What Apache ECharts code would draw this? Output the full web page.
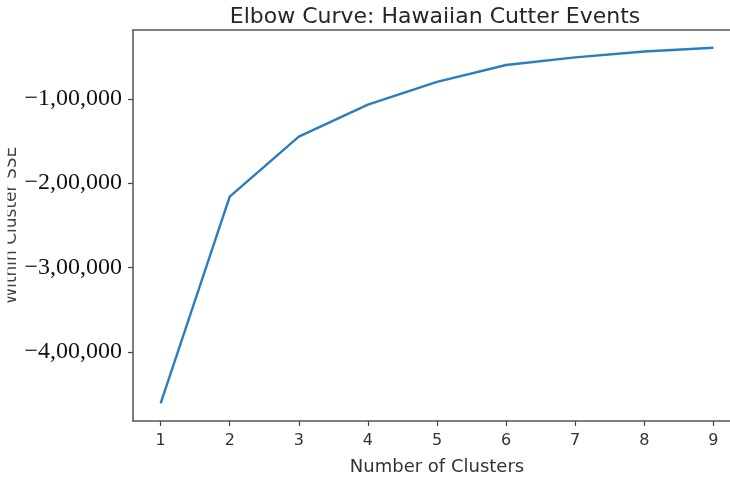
<!DOCTYPE html>
<html>
<head>
<meta charset="utf-8">
<script src="https://cdn.jsdelivr.net/npm/echarts@6/dist/echarts.min.js"></script>
<style>html,body{margin:0;padding:0;background:#fff;}#c{width:730px;height:486px;}</style>
</head>
<body>
<div id="c"></div>
<script>
const clusters = [1, 2, 3, 4, 5, 6, 7, 8, 9];
const sse = [-461000, -216000, -145000, -107000, -80000, -60000, -51000, -44000, -39600];
const xTicks = [1, 2, 3, 4, 5, 6, 7, 8, 9];
const yTicks = [-400000, -300000, -200000, -100000];

function indian(v) {
  const neg = v < 0;
  const s = String(Math.abs(Math.round(v)));
  let out;
  if (s.length <= 3) out = s;
  else {
    const last3 = s.slice(-3);
    const rest = s.slice(0, -3).replace(/\B(?=(\d{2})+(?!\d))/g, ',');
    out = rest + ',' + last3;
  }
  return (neg ? '\u2212' : '') + out;
}

const spine = {color: '#555', width: 1.5};
const chart = echarts.init(document.getElementById('c'), null, {renderer: 'canvas'});
chart.setOption({
  animation: false,
  backgroundColor: '#fff',
  title: {
    text: 'Elbow Curve: Hawaiian Cutter Events',
    left: 430, top: 1, textAlign: 'center',
    textStyle: {fontFamily: 'DejaVu Sans', fontSize: 22, fontWeight: 'normal', color: '#262626'}
  },
  grid: {left: 133, top: 30, right: -11, bottom: 65, outerBoundsMode: 'none', containLabel: false, show: false},
  xAxis: [{
    type: 'value', min: 0.6, max: 9.4, position: 'bottom',
    name: 'Number of Clusters', nameLocation: 'middle', nameGap: 37, nameMoveOverlap: false,
    nameTextStyle: {fontFamily: 'DejaVu Sans', fontSize: 18, color: '#333'},
    axisLine: {show: true, onZero: false, lineStyle: spine},
    axisTick: {show: true, customValues: xTicks, length: 5, lineStyle: {color: '#444', width: 1.2}},
    axisLabel: {customValues: xTicks, margin: 12, fontFamily: 'DejaVu Sans', fontSize: 16, color: '#333'},
    splitLine: {show: false}
  }, {
    type: 'value', min: 0.6, max: 9.4, position: 'top',
    axisLine: {show: true, onZero: false, lineStyle: spine},
    axisTick: {show: false}, axisLabel: {show: false}, splitLine: {show: false}
  }],
  yAxis: {
    type: 'value', min: -482000, max: -18500,
    name: 'Within Cluster SSE', nameLocation: 'middle', nameRotate: 90, nameGap: 113, nameMoveOverlap: false,
    nameTextStyle: {fontFamily: 'DejaVu Sans', fontSize: 17, color: '#444'},
    axisLine: {show: true, onZero: false, lineStyle: spine},
    axisTick: {show: true, customValues: yTicks, length: 5, lineStyle: {color: '#444', width: 1.2}},
    axisLabel: {customValues: yTicks, margin: 11, fontFamily: 'Liberation Serif', fontSize: 24, color: '#111', formatter: indian},
    splitLine: {show: false}
  },
  series: [{
    type: 'line',
    data: clusters.map((c, i) => [c, sse[i]]),
    showSymbol: false,
    lineStyle: {color: '#2a7dbf', width: 2.4},
    z: 3
  }],
  graphic: [{
    type: 'rect', shape: {x: 0, y: 60, width: 7.5, height: 330},
    style: {fill: '#fff'}, z: 100, silent: true
  }]
});
</script>
</body>
</html>
